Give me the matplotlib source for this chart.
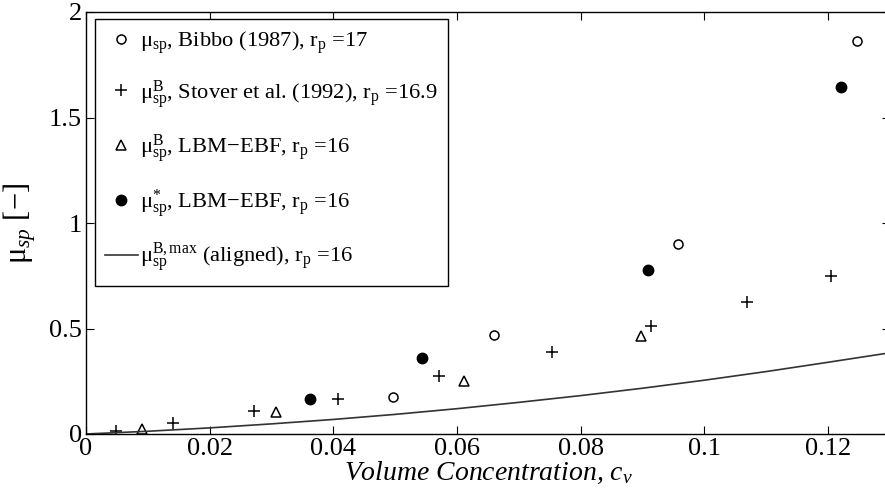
import matplotlib
matplotlib.use("Agg")
import matplotlib.pyplot as plt
from matplotlib.ticker import FormatStrFormatter

plt.rcParams['font.family'] = ['Liberation Serif', 'DejaVu Serif']
plt.rcParams['mathtext.fontset'] = 'custom'
plt.rcParams['mathtext.rm'] = 'Liberation Serif'
plt.rcParams['mathtext.it'] = 'Liberation Serif:italic'
plt.rcParams['mathtext.bf'] = 'Liberation Serif:bold'

# Bibbo (1987), rp = 17
bibbo_c = [0.0496, 0.0659, 0.0958, 0.1246]
bibbo_mu = [0.175, 0.469, 0.900, 1.863]

# Stover et al. (1992), rp = 16.9
stover_c = [0.0048, 0.0141, 0.0271, 0.0407, 0.0570, 0.0753, 0.0914, 0.1068, 0.1205]
stover_mu = [0.016, 0.052, 0.107, 0.166, 0.277, 0.387, 0.510, 0.627, 0.749]

# LBM-EBF, mu_sp^B
lbm_b_c = [0.0090, 0.0307, 0.0612, 0.0898]
lbm_b_mu = [0.024, 0.104, 0.251, 0.464]

# LBM-EBF, mu_sp^*
lbm_s_c = [0.0362, 0.0543, 0.0908, 0.1220]
lbm_s_mu = [0.166, 0.362, 0.777, 1.645]

# aligned maximum, rp = 16
max_c = [0, 0.01, 0.02, 0.03, 0.04, 0.05, 0.06, 0.07, 0.08, 0.09, 0.10, 0.11, 0.12, 0.13]
max_mu = [0, 0.013, 0.029, 0.048, 0.069, 0.093, 0.120, 0.150, 0.182, 0.217, 0.255, 0.296, 0.340, 0.385]

fig = plt.figure(figsize=(8.85, 5.0), dpi=100)
ax = fig.add_axes([86 / 885, 66 / 500, 804 / 885, 422 / 500])

ax.plot(bibbo_c, bibbo_mu, 'o', mfc='white', mec='black', mew=1.1, ms=6.5,
        label=r'μ$_{\rm sp}$, Bibbo (1987), r$_{\rm p}$ =17')
ax.plot(stover_c, stover_mu, '+', color='black', mew=1.1, ms=8,
        label=r'μ$^{\rm B}_{\rm sp}$, Stover et al. (1992), r$_{\rm p}$ =16.9')
ax.plot(lbm_b_c, lbm_b_mu, '^', mfc='white', mec='black', mew=1.1, ms=7,
        label=r'μ$^{\rm B}_{\rm sp}$, LBM$-$EBF, r$_{\rm p}$ =16')
ax.plot(lbm_s_c, lbm_s_mu, 'o', color='black', ms=7.5,
        label=r'μ$^{*}_{\rm sp}$, LBM$-$EBF, r$_{\rm p}$ =16')
ax.plot(max_c, max_mu, '-', color='#333333', lw=1.2,
        label=r'μ$^{\rm B,max}_{\rm sp}$ (aligned), r$_{\rm p}$ =16')

ax.set_xlim(0, 0.13)
ax.set_ylim(0, 2)
ax.set_xticks([0, 0.02, 0.04, 0.06, 0.08, 0.1, 0.12])
ax.set_yticks([0, 0.5, 1, 1.5, 2])
ax.xaxis.set_major_formatter(FormatStrFormatter('%g'))
ax.yaxis.set_major_formatter(FormatStrFormatter('%g'))
ax.tick_params(direction='in', top=True, right=True, length=6, width=0.8, labelsize=19,
               pad=3)
for s in ax.spines.values():
    s.set_linewidth(1.0)

ax.set_xlabel(r'Volume Concentration, $c_v$', fontsize=20, fontstyle='italic', labelpad=0)
ax.set_ylabel(r'μ$_{\it sp}$ $\it [-]$', fontsize=22, labelpad=8)

leg = ax.legend(loc='upper left', bbox_to_anchor=(0.011, 0.983), borderaxespad=0,
                fontsize=16.2, fancybox=False, framealpha=1, edgecolor='black',
                handlelength=1.45, handletextpad=0.1, labelspacing=0.98, borderpad=0.45)
leg.get_frame().set_linewidth(1.0)

fig.savefig('out.png', dpi=100)
plt.close(fig)
